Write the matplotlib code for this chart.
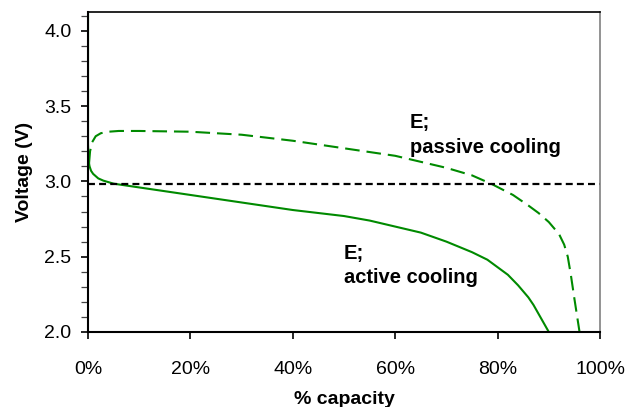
import matplotlib
matplotlib.use("Agg")
import matplotlib.pyplot as plt
from matplotlib.ticker import MultipleLocator, FuncFormatter

plt.rcParams['font.family'] = ['Liberation Sans', 'DejaVu Sans']
plt.rcParams['lines.scale_dashes'] = False

# Discharge curve, active cooling (% capacity, volts)
active_x = [0, 0, 0.1, 0.3, 0.6, 1, 2, 3, 5, 10, 20, 30, 40, 50, 55, 60, 65, 70, 75, 78, 80, 82,
            84, 86, 87, 88, 89, 90]
active_v = [4.13, 3.25, 3.14, 3.10, 3.07, 3.05, 3.02, 3.005, 2.985, 2.96, 2.91, 2.86, 2.81, 2.77,
            2.74, 2.70, 2.66, 2.60, 2.53, 2.48, 2.43, 2.38, 2.31, 2.23, 2.18, 2.12, 2.06, 2.0]

# Discharge curve, passive cooling
passive_x = [0.2, 0.4, 0.8, 1.5, 2.5, 4, 6, 10, 20, 30, 40, 50, 60, 65, 70, 75, 79, 83, 86, 88, 90,
             91, 92, 93, 93.7, 94.3, 95, 95.5, 96]
passive_v = [3.12, 3.20, 3.26, 3.30, 3.32, 3.33, 3.335, 3.335, 3.33, 3.31, 3.27, 3.22, 3.17, 3.13,
             3.09, 3.04, 2.98, 2.91, 2.84, 2.79, 2.73, 2.69, 2.65, 2.58, 2.50, 2.38, 2.22, 2.11, 2.0]

cutoff_v = 2.985
x_ticks = [0, 20, 40, 60, 80, 100]
y_ticks = [2.0, 2.5, 3.0, 3.5, 4.0]

fig = plt.figure(figsize=(6.26, 4.07), dpi=100)
ax = fig.add_axes([0.1406, 0.1843, 0.8179, 0.7862])

green = '#008a00'
ax.plot(active_x, active_v, color=green, lw=1.5, solid_capstyle='butt', solid_joinstyle='round')
ax.plot(passive_x, passive_v, color=green, lw=1.5, dashes=(10.5, 5))
ax.axhline(cutoff_v, color='black', lw=1.6, dashes=(5, 3))

ax.set_xlim(0, 100)
ax.set_ylim(2.0, 4.125)
ax.set_xticks(x_ticks)
ax.set_yticks(y_ticks)
ax.yaxis.set_minor_locator(MultipleLocator(0.1))
ax.xaxis.set_major_formatter(FuncFormatter(lambda v, p: f"{v:.0f}%"))
ax.yaxis.set_major_formatter(FuncFormatter(lambda v, p: f"{v:.1f}"))

ax.tick_params(axis='both', which='major', direction='out', length=5, width=1.2,
               labelsize=14, pad=7, color='black')
ax.tick_params(axis='y', which='minor', direction='out', length=5, width=0.9, color='#444444')
ax.tick_params(axis='x', which='major', pad=16)

for side in ['left', 'bottom']:
    ax.spines[side].set_linewidth(1.5)
ax.spines['top'].set_linewidth(1.2)
ax.spines['right'].set_linewidth(1.2)
ax.spines['right'].set_color('#808080')

ax.set_xlabel('% capacity', fontsize=14, fontweight='bold', labelpad=9)
ax.set_ylabel('Voltage (V)', fontsize=14, fontweight='bold', labelpad=8)

label_kw = dict(fontsize=14.5, fontweight='bold', va='baseline', ha='left')
ax.text(62.9, 3.355, 'E;', **label_kw)
ax.text(62.9, 3.189, 'passive cooling', **label_kw)
ax.text(49.9, 2.485, 'E;', **label_kw)
ax.text(49.9, 2.326, 'active cooling', **label_kw)

fig.savefig('out.png', dpi=100)
